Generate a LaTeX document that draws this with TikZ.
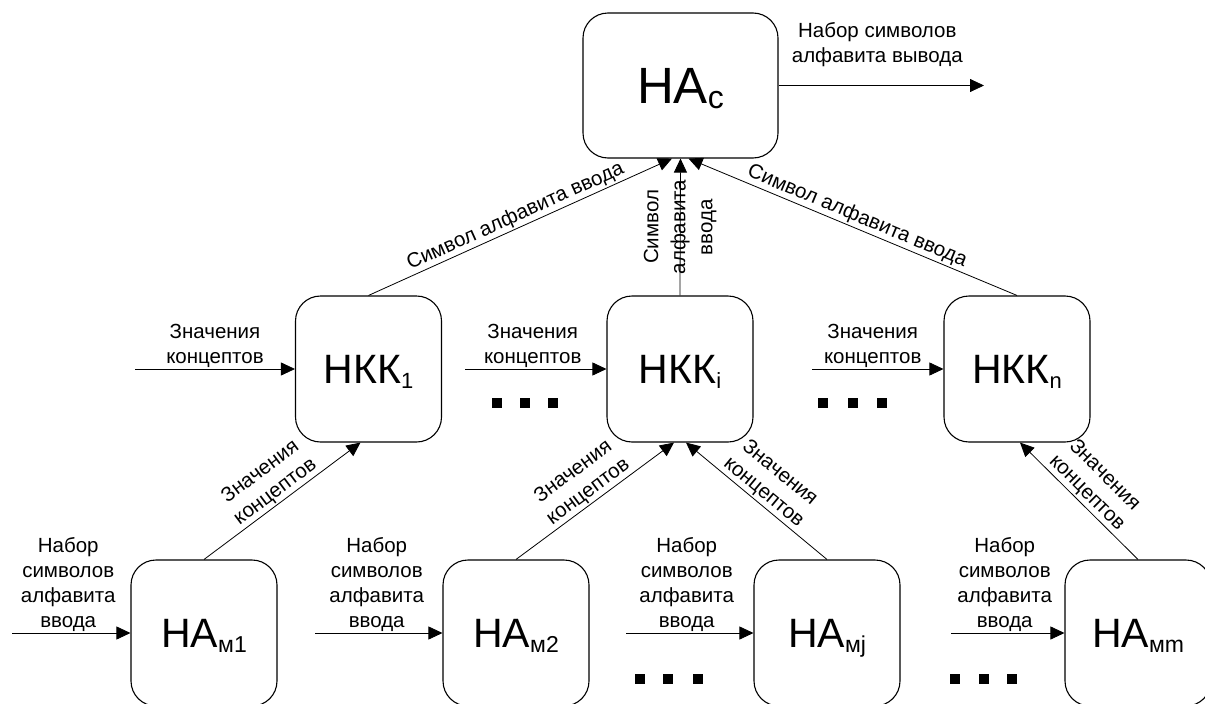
\documentclass[tikz,border=0pt]{standalone}
\usepackage{fontspec}
\setmainfont{Liberation Sans}
\usetikzlibrary{arrows.meta}
\newcommand\lowsub[2]{\raisebox{-5pt}{\fontsize{#1}{#1}\selectfont #2}}
\begin{document}
\begin{tikzpicture}[x=1pt,y=-1pt,
  block/.style={draw, line width=1.1pt, rounded corners=25pt, minimum width=146pt,
    minimum height=146pt, inner sep=0pt, text depth=0pt, font=\fontsize{41}{48}\selectfont},
  flow/.style={line width=0.8pt, -{Triangle[length=14pt,width=13pt]}},
  lbl/.style={font=\fontsize{20.5}{25}\selectfont, align=center, inner sep=1.5pt},
  sq/.style={fill, minimum size=10.5pt, inner sep=0pt}
]
\useasboundingbox (0,0) rectangle (1205,704);

% blocks
\node[block, minimum width=195pt, minimum height=145pt, font=\fontsize{51}{60}\selectfont]
  (HAc) at (680.5,85.5) {НА\lowsub{32}{c}};
\node[block] (NKK1) at (368.5,369) {НКК\lowsub{22}{1}};
\node[block] (NKKi) at (680,369) {НКК\lowsub{22}{i}};
\node[block] (NKKn) at (1017,369) {НКК\lowsub{22}{n}};
\node[block] (NAm1) at (204,633) {НА\lowsub{23}{м1}};
\node[block] (NAm2) at (516,633) {НА\lowsub{23}{м2}};
\node[block] (NAmj) at (827,633) {НА\lowsub{23}{мj}};
\node[block] (NAmm) at (1138,633) {НА\lowsub{23}{мm}};

% free ends
\coordinate (out) at (984,85.5);
\coordinate (k1) at (135,369);
\coordinate (k2) at (465,369);
\coordinate (k3) at (812,369);
\coordinate (a1) at (12,633);
\coordinate (a2) at (315,633);
\coordinate (a3) at (626,633);
\coordinate (a4) at (951,633);

% output
\draw[flow] (HAc.east) -- node[lbl, above=17pt, xshift=-4pt]{Набор символов\\алфавита вывода} (out);

% NKK -> HAc
\draw[flow] (NKK1.north) -- node[lbl, above, sloped]{Символ алфавита ввода} ([xshift=-8.5pt]HAc.south);
\draw[flow] (NKKi.north) -- node[lbl, sloped, font=\fontsize{20.5}{27}\selectfont]{Символ\\алфавита\\ввода} (HAc.south);
\draw[flow] (NKKn.north) -- node[lbl, above, sloped]{Символ алфавита ввода} ([xshift=8pt]HAc.south);

% inputs to NKK
\draw[flow] (k1) -- node[lbl, above]{Значения\\концептов} (NKK1);
\draw[flow] (k2) -- node[lbl, above, xshift=-3pt]{Значения\\концептов} (NKKi);
\draw[flow] (k3) -- node[lbl, above, xshift=-5pt]{Значения\\концептов} (NKKn);

% NA -> NKK
\draw[flow] (NAm1.north) -- node[lbl, above, sloped]{Значения\\концептов} ([xshift=-8pt]NKK1.south);
\draw[flow] (NAm2.north) -- node[lbl, above, sloped]{Значения\\концептов} ([xshift=-6pt]NKKi.south);
\draw[flow] (NAmj.north) -- node[lbl, above, sloped]{Значения\\концептов} ([xshift=6pt]NKKi.south);
\draw[flow] (NAmm.north) -- node[lbl, above, sloped]{Значения\\концептов} ([xshift=3pt]NKKn.south);

% inputs to NA
\draw[flow] (a1) -- node[lbl, above, xshift=-3pt]{Набор\\символов\\алфавита\\ввода} (NAm1);
\draw[flow] (a2) -- node[lbl, above, xshift=-2pt]{Набор\\символов\\алфавита\\ввода} (NAm2);
\draw[flow] (a3) -- node[lbl, above, xshift=-3pt]{Набор\\символов\\алфавита\\ввода} (NAmj);
\draw[flow] (a4) -- node[lbl, above, xshift=-3pt]{Набор\\символов\\алфавита\\ввода} (NAmm);

% ellipsis squares
\node[sq] (d11) at (497,403) {};
\node[sq] (d12) at (525,403) {};
\node[sq] (d13) at (553,403) {};
\node[sq] (d21) at (823,403) {};
\node[sq] (d22) at (853,403) {};
\node[sq] (d23) at (882,403) {};
\node[sq] (d31) at (640,679) {};
\node[sq] (d32) at (668,679) {};
\node[sq] (d33) at (698,679) {};
\node[sq] (d41) at (955,679) {};
\node[sq] (d42) at (984,679) {};
\node[sq] (d43) at (1012,679) {};
\end{tikzpicture}
\end{document}
